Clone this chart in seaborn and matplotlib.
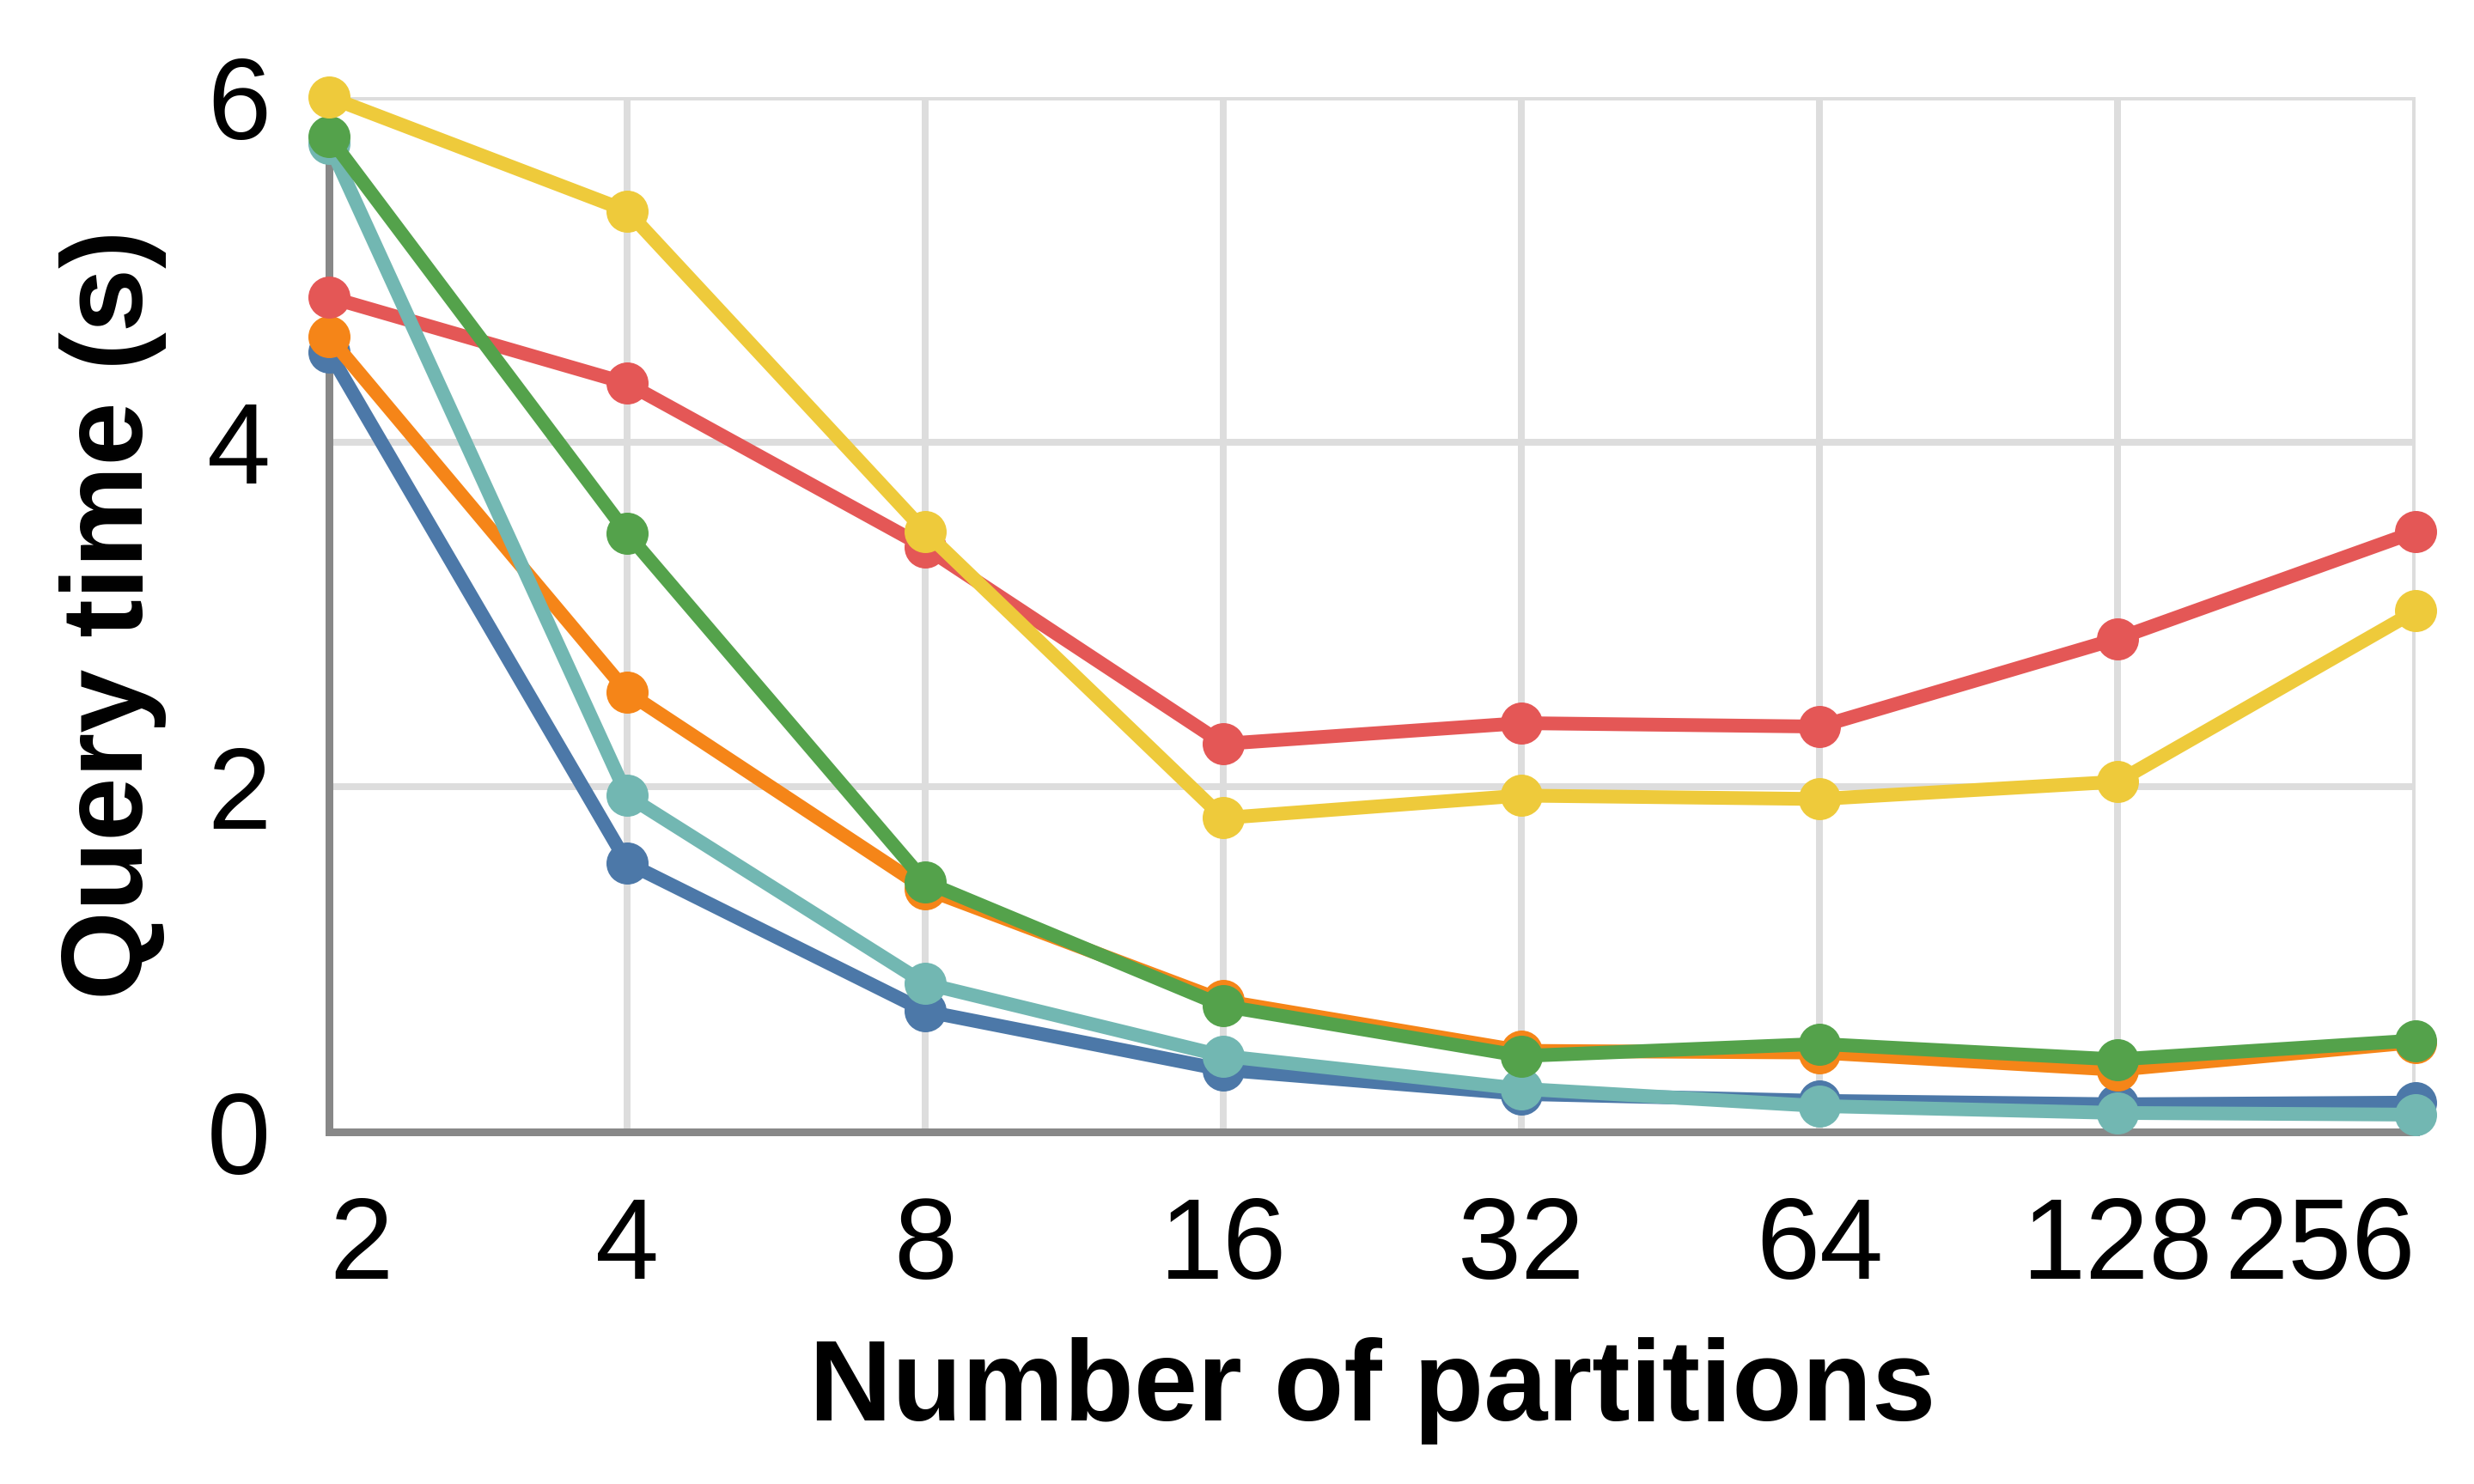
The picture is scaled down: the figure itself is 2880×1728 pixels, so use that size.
import pandas as pd
import numpy as np
import matplotlib
matplotlib.use('Agg')
import matplotlib.pyplot as plt
import seaborn as sns

# data
partitions = [2, 4, 8, 16, 32, 64, 128, 256]
series_order = ['s1', 's2', 's3', 's4', 's5', 's6']
s1 = [4.52, 1.56, 0.70, 0.36, 0.22, 0.18, 0.16, 0.17]   # blue
s2 = [4.61, 2.55, 1.41, 0.76, 0.47, 0.46, 0.36, 0.52]   # orange
s3 = [4.84, 4.34, 3.39, 2.25, 2.37, 2.35, 2.86, 3.48]   # red
s4 = [5.73, 1.95, 0.86, 0.44, 0.25, 0.15, 0.11, 0.10]   # teal
s5 = [5.77, 3.47, 1.45, 0.73, 0.44, 0.51, 0.42, 0.53]   # green
s6 = [6.00, 5.34, 3.48, 1.82, 1.95, 1.93, 2.03, 3.02]   # yellow
palette = ['#4c78a8', '#f58518', '#e45756', '#72b7b2', '#54a24b', '#eeca3b']

df = pd.DataFrame({
    'partitions': partitions * 6,
    'time': s1 + s2 + s3 + s4 + s5 + s6,
    'series': np.repeat(series_order, len(partitions)),
})

sns.set_style('white')
plt.rcParams['font.family'] = ['Liberation Sans', 'DejaVu Sans']

px = 72 / 200  # points per pixel at dpi 200
fig = plt.figure(figsize=(14.4, 8.64), dpi=200)
ax = fig.add_axes([383 / 2880, 1 - 1318 / 1728, (2812 - 383) / 2880, (1318 - 113) / 1728])

sns.lineplot(data=df, x='partitions', y='time', hue='series', hue_order=series_order,
             palette=palette, marker='o', markersize=49 * px, markeredgewidth=0,
             linewidth=16 * px, estimator=None, legend=False, ax=ax,
             clip_on=False, zorder=3)

ax.set_xscale('log', base=2)
ax.set_xlim(2, 256)
ax.set_ylim(0, 6)
ax.set_xticks(partitions, [str(p) for p in partitions])
ax.set_yticks([0, 2, 4, 6], ['0', '2', '4', '6'])
ax.minorticks_off()
labels = ax.get_xticklabels()
labels[0].set_ha('left')
labels[-1].set_ha('right')

ax.grid(True, color='#dddddd', linewidth=8 * px)
ax.set_axisbelow(True)
for side in ['top', 'right']:
    ax.spines[side].set_visible(False)
for side in ['left', 'bottom']:
    ax.spines[side].set_color('#888888')
    ax.spines[side].set_linewidth(9 * px)
    ax.spines[side].set_zorder(1.5)

ax.tick_params(axis='both', colors='#888888', labelcolor='black', labelsize=48,
               width=8 * px, length=44 * px)
ax.tick_params(axis='x', pad=30 * px)
ax.tick_params(axis='y', pad=24 * px)

ax.set_xlabel('Number of partitions', fontsize=48, fontweight='bold', color='black')
ax.set_ylabel('Query time (s)', fontsize=48, fontweight='bold', color='black')
ax.xaxis.set_label_coords(0.5, -0.198)
ax.yaxis.set_label_coords(-0.078, 0.5)

fig.savefig('out.png', dpi=200)
